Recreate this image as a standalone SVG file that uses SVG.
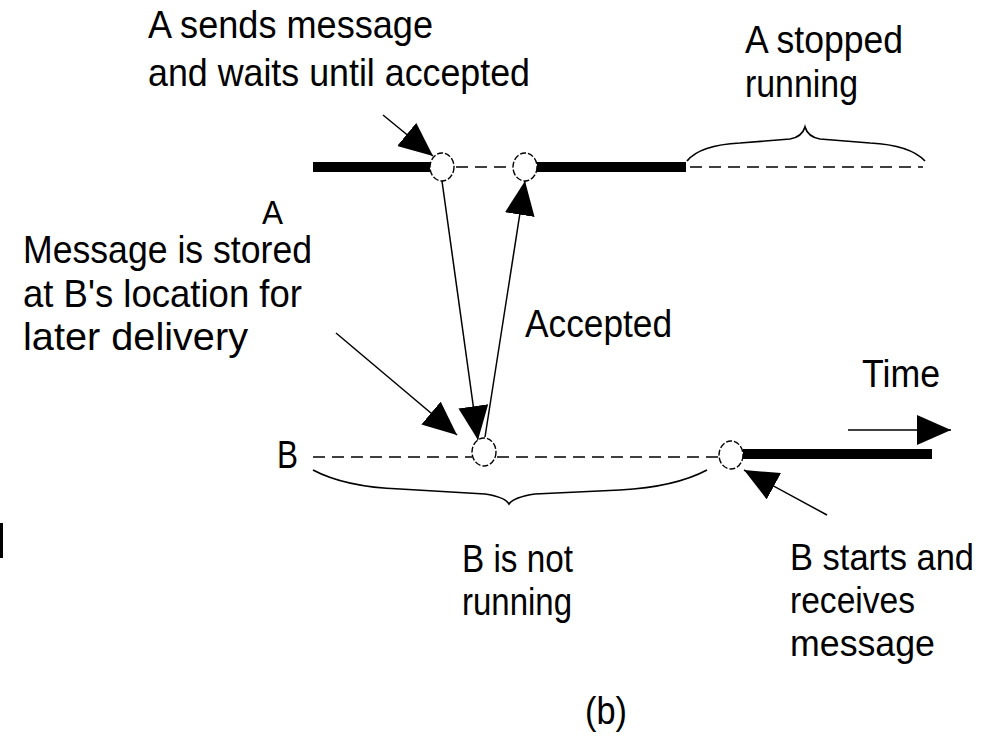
<svg xmlns="http://www.w3.org/2000/svg" width="989" height="739" viewBox="0 0 989 739">
  <style>
    .lbl { font-family: "Liberation Sans", Arial, sans-serif; font-size: 39px; fill: #000; }
    .small { font-size: 33px; }
    .edge { font-size: 36px; }
    .run { stroke: #000; stroke-width: 10; fill: none; }
    .idle { stroke: #000; stroke-width: 1.7; stroke-dasharray: 12 7; fill: none; }
    .evt { stroke: #000; stroke-width: 1.4; stroke-dasharray: 6 2; fill: #fff; }
    .brace { stroke: #000; stroke-width: 1.7; fill: none; }
    .conn { stroke: #000; stroke-width: 1.5; fill: none; marker-end: url(#head); }
  </style>
  <defs>
    <marker id="head" viewBox="0 0 34 30" refX="34" refY="15" markerWidth="34" markerHeight="30" markerUnits="userSpaceOnUse" orient="auto">
      <path d="M0,0 L34,15 L0,30 Z" fill="#000"/>
    </marker>
  </defs>
  <rect width="989" height="739" fill="#fff"/>

  <!-- timeline of process A -->
  <g id="timeline-a">
    <line class="run" x1="313" y1="167" x2="430" y2="167"/>
    <line class="idle" x1="456" y1="167" x2="513" y2="167"/>
    <line class="run" x1="537" y1="167" x2="686" y2="167"/>
    <line class="idle" x1="690" y1="167" x2="923" y2="167"/>
    <path class="brace" d="M687,161 Q700,145 740,143 L790,139 Q802,137 805,127 Q808,137 820,139 L870,143 Q910,145 925,161"/>
  </g>

  <!-- timeline of process B -->
  <g id="timeline-b">
    <line class="idle" x1="313" y1="457" x2="472" y2="457"/>
    <line class="idle" x1="497" y1="457" x2="718" y2="457"/>
    <line class="run" x1="743" y1="454" x2="932" y2="454"/>
    <path class="brace" d="M313,470 Q345,487 400,489 L485,494 Q505,497 509,504 Q514,497 535,494 L620,490 Q675,487 707,470"/>
  </g>

  <!-- connectors -->
  <g id="connectors">
    <line class="conn" x1="383" y1="115" x2="433" y2="156"/>
    <line class="conn" x1="442" y1="181" x2="478" y2="440"/>
    <line class="conn" x1="485" y1="437" x2="525" y2="181"/>
    <line class="conn" x1="336" y1="333" x2="457" y2="435"/>
    <line class="conn" x1="827" y1="515" x2="744" y2="470"/>
    <line class="conn" x1="848" y1="430" x2="951" y2="430"/>
  </g>

  <!-- event points -->
  <g id="send-a"><ellipse class="evt" cx="442" cy="167" rx="12" ry="14"/></g>
  <g id="accept-a"><ellipse class="evt" cx="525" cy="167" rx="12" ry="14"/></g>
  <g id="store-b"><ellipse class="evt" cx="484" cy="452" rx="12" ry="14"/></g>
  <g id="start-b"><ellipse class="evt" cx="731" cy="455" rx="12" ry="14"/></g>

  <!-- labels -->
  <g id="label-send">
    <text class="lbl" x="148" y="38" textLength="285" lengthAdjust="spacingAndGlyphs">A sends message</text>
    <text class="lbl" x="148" y="86" textLength="382" lengthAdjust="spacingAndGlyphs">and waits until accepted</text>
  </g>
  <g id="label-stopped">
    <text class="lbl" x="745" y="53" textLength="158" lengthAdjust="spacingAndGlyphs">A stopped</text>
    <text class="lbl" x="745" y="97" textLength="113" lengthAdjust="spacingAndGlyphs">running</text>
  </g>
  <g id="label-a"><text class="lbl small" x="262" y="224" textLength="21" lengthAdjust="spacingAndGlyphs">A</text></g>
  <g id="label-b"><text class="lbl" x="277" y="468" textLength="21" lengthAdjust="spacingAndGlyphs">B</text></g>
  <g id="label-stored">
    <text class="lbl" x="23" y="263" textLength="289" lengthAdjust="spacingAndGlyphs">Message is stored</text>
    <text class="lbl" x="23" y="307" textLength="279" lengthAdjust="spacingAndGlyphs">at B's location for</text>
    <text class="lbl" x="23" y="350" textLength="225" lengthAdjust="spacingAndGlyphs">later delivery</text>
  </g>
  <g id="label-accepted"><text class="lbl" x="525" y="337" textLength="147" lengthAdjust="spacingAndGlyphs">Accepted</text></g>
  <g id="label-time"><text class="lbl" x="862" y="387" textLength="78" lengthAdjust="spacingAndGlyphs">Time</text></g>
  <g id="label-not-running">
    <text class="lbl" x="462" y="572" textLength="111" lengthAdjust="spacingAndGlyphs">B is not</text>
    <text class="lbl" x="462" y="615" textLength="110" lengthAdjust="spacingAndGlyphs">running</text>
  </g>
  <g id="label-receives">
    <text class="lbl edge" x="790" y="570" textLength="184" lengthAdjust="spacingAndGlyphs">B starts and</text>
    <text class="lbl edge" x="790" y="613" textLength="125" lengthAdjust="spacingAndGlyphs">receives</text>
    <text class="lbl edge" x="790" y="656" textLength="145" lengthAdjust="spacingAndGlyphs">message</text>
  </g>
  <g id="caption"><text class="lbl" x="585" y="724" textLength="42" lengthAdjust="spacingAndGlyphs">(b)</text></g>

  <!-- stray bar at the left edge -->
  <rect x="0" y="523" width="3" height="35" fill="#000"/>
</svg>
